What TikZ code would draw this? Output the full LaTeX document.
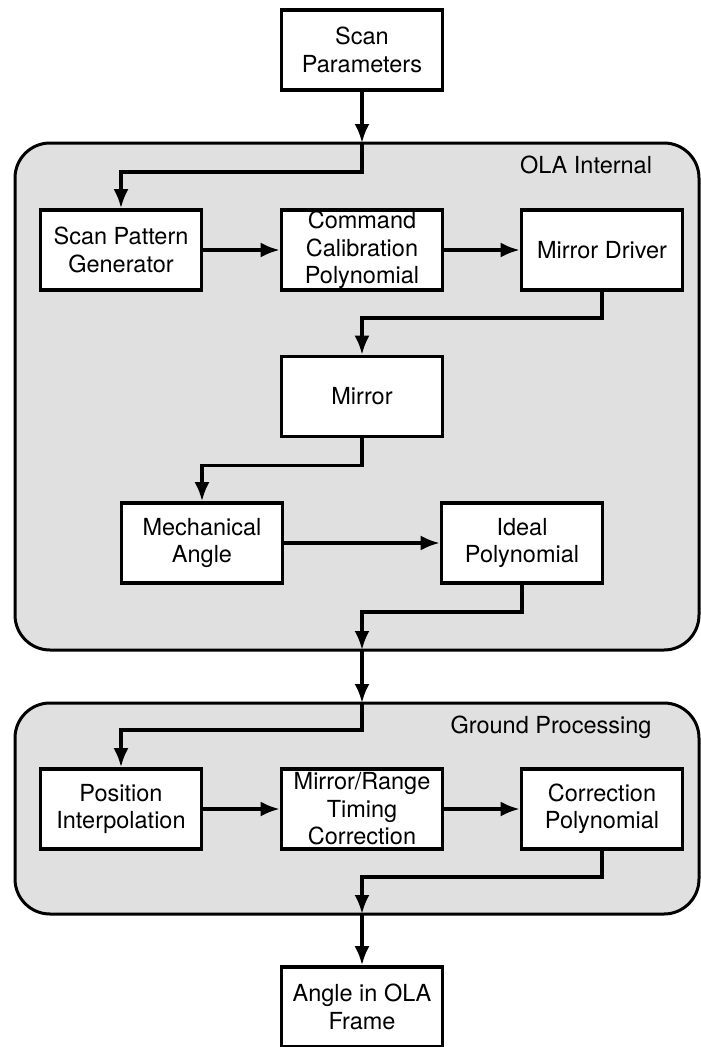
\documentclass[tikz,border=0pt]{standalone}
\usepackage{fontspec}
\setmainfont{TeX Gyre Heros}
\usetikzlibrary{arrows.meta}
\definecolor{panelgray}{HTML}{E0E0E0}
\tikzset{
  block/.style={draw,fill=white,line width=3.6pt,minimum width=161pt,minimum height=80pt,
    align=center,inner sep=0pt,font=\fontsize{23.5}{27.5}\selectfont},
  panel/.style={draw,fill=panelgray,line width=3pt,rounded corners=35pt},
  panellabel/.style={anchor=base,font=\fontsize{23.5}{27.5}\selectfont},
}
\begin{document}
\begin{tikzpicture}[x=1pt,y=-1pt,>={Latex[length=19pt,width=15pt]},line width=3.4pt]
\useasboundingbox (0,0) rectangle (701,1047);
% grouping panels
\draw[panel] (15,143) rectangle (699,650);
\draw[panel] (15,703) rectangle (699,914);
\coordinate (olatop) at (362,143);
\coordinate (olabot) at (362,650);
\coordinate (gndtop) at (362,703);
\coordinate (gndbot) at (362,914);
\node[panellabel] (olalabel) at (586,173) {OLA Internal};
\node[panellabel] (gndlabel) at (551,733) {Ground Processing};
% blocks
\node[block] (param) at (362,50) {Scan\\Parameters};
\node[block] (spg) at (121,250) {Scan Pattern\\Generator};
\node[block] (ccp) at (362,250) {Command\\Calibration\\Polynomial};
\node[block] (drv) at (602,250) {Mirror Driver};
\node[block] (mirror) at (362,396.5) {Mirror};
\node[block] (mech) at (202,543) {Mechanical\\Angle};
\node[block] (ideal) at (522,543) {Ideal\\Polynomial};
\node[block] (pos) at (121,809) {Position\\Interpolation};
\node[block] (mrt) at (362,809) {Mirror/Range\\Timing\\Correction};
\node[block] (corr) at (602,809) {Correction\\Polynomial};
\node[block] (frame) at (362,1007) {Angle in OLA\\Frame};
% connectors
\draw[->] (param) -- (olatop);
\draw[->] (olatop) -- ++(0,29) -| (spg);
\draw[->] (spg) -- (ccp);
\draw[->] (ccp) -- (drv);
\draw[->] (drv.south) -- ++(0,26) -| (mirror);
\draw[->] (mirror.south) -- ++(0,27) -| (mech);
\draw[->] (mech) -- (ideal);
\draw[->] (ideal.south) -- ++(0,27) -| (olabot);
\draw[->] (olabot) -- (gndtop);
\draw[->] (gndtop) -- ++(0,27) -| (pos);
\draw[->] (pos) -- (mrt);
\draw[->] (mrt) -- (corr);
\draw[->] (corr.south) -- ++(0,26) -| (gndbot);
\draw[->] (gndbot) -- (frame);
\end{tikzpicture}
\end{document}
